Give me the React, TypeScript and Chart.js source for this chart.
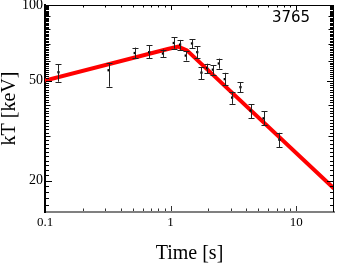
import React, { useEffect, useRef } from "react";
import { Chart, registerables } from "chart.js";

Chart.register(...registerables);

// Measured data (time in s, kT in keV) with asymmetric error bounds
const timeS = [0.128, 0.321, 0.518, 0.675, 0.869, 1.06, 1.19, 1.32, 1.48, 1.63, 1.76, 1.95, 2.17, 2.42, 2.7, 3.09, 3.6, 4.34, 5.5, 7.35];
const kT = [54.0, 55.0, 64.4, 64.9, 64.1, 70.6, 69.6, 62.9, 70.3, 64.9, 53.8, 56.1, 55.3, 58.5, 50.7, 42.8, 47.1, 38.0, 35.4, 29.1];
const kTHigh = [58.2, 58.6, 67.7, 69.0, 66.5, 74.3, 72.6, 65.6, 73.1, 68.4, 56.6, 58.4, 57.7, 61.2, 53.7, 45.2, 49.2, 40.2, 37.7, 31.0];
const kTLow = [49.5, 47.3, 61.4, 61.5, 61.9, 67.1, 66.3, 60.1, 67.3, 61.5, 50.6, 53.4, 52.8, 55.8, 47.9, 40.4, 44.9, 35.5, 33.3, 27.2];

// Broken power-law fit (red line)
const fitTime = [0.1, 0.95, 1.15, 1.35, 20];
const fitKT = [50, 66.8, 68.3, 66.0, 18.6];

// Axis ticks
const xTickLabels = [0.1, 1, 10];
const xMinorTicks = [0.2, 0.3, 0.4, 0.5, 0.6, 0.7, 0.8, 0.9, 2, 3, 4, 5, 6, 7, 8, 9];
const yTickLabels = [20, 50, 100];
const yMinorTicks = Array.from({ length: 86 }, (_, i) => 15 + i);

const burstLabel = "3765";
const xTitle = "Time [s]";
const yTitle = "kT [keV]";

const SERIF = "'Liberation Serif', 'Times New Roman', serif";

const errorBarPlugin = {
  id: "errorBars",
  afterDatasetsDraw(chart: any) {
    const { ctx, scales } = chart;
    const x = scales.x;
    const y = scales.y;
    ctx.save();
    ctx.strokeStyle = "#222";
    ctx.lineWidth = 1;
    ctx.beginPath();
    for (let i = 0; i < timeS.length; i++) {
      const px = Math.round(x.getPixelForValue(timeS[i])) + 0.5;
      const pTop = y.getPixelForValue(kTHigh[i]);
      const pBot = y.getPixelForValue(kTLow[i]);
      ctx.moveTo(px, pTop);
      ctx.lineTo(px, pBot);
      ctx.moveTo(px - 3, Math.round(pTop) + 0.5);
      ctx.lineTo(px + 3, Math.round(pTop) + 0.5);
      ctx.moveTo(px - 3, Math.round(pBot) + 0.5);
      ctx.lineTo(px + 3, Math.round(pBot) + 0.5);
    }
    ctx.stroke();
    ctx.restore();
  },
};

const frameTicksPlugin = {
  id: "frameTicks",
  afterDraw(chart: any) {
    const { ctx, chartArea, scales } = chart;
    const { left, right, top, bottom } = chartArea;
    const x = scales.x;
    const y = scales.y;
    ctx.save();
    ctx.strokeStyle = "#000";
    ctx.lineWidth = 1;
    ctx.beginPath();
    // top and right frame
    ctx.moveTo(left, top + 0.5);
    ctx.lineTo(right, top + 0.5);
    ctx.moveTo(right - 0.5, top);
    ctx.lineTo(right - 0.5, bottom);
    // y ticks (left and right, pointing inwards)
    for (const v of yMinorTicks) {
      const py = Math.round(y.getPixelForValue(v)) + 0.5;
      if (py < top || py > bottom) continue;
      const len = yTickLabels.includes(v) ? 6 : v % 10 === 0 ? 4.5 : 3;
      ctx.moveTo(left + 1, py);
      ctx.lineTo(left + 1 + len, py);
      ctx.moveTo(right - 1, py);
      ctx.lineTo(right - 1 - len, py);
    }
    // top ticks
    for (const v of [...xMinorTicks, ...xTickLabels]) {
      const px = Math.round(x.getPixelForValue(v)) + 0.5;
      if (px <= left + 1 || px >= right - 1) continue;
      const len = xTickLabels.includes(v) ? 5 : 2.5;
      ctx.moveTo(px, top);
      ctx.lineTo(px, top + len);
    }
    ctx.stroke();
    // bottom ticks
    ctx.strokeStyle = "#333";
    ctx.beginPath();
    for (const v of [...xMinorTicks, ...xTickLabels]) {
      const px = Math.round(x.getPixelForValue(v)) + 0.5;
      if (px <= left + 1 || px >= right - 1) continue;
      const len = xTickLabels.includes(v) ? 5 : 2.5;
      ctx.moveTo(px, bottom - 1);
      ctx.lineTo(px, bottom - 1 - len);
    }
    ctx.stroke();
    // burst label
    ctx.fillStyle = "#000";
    ctx.font = "15px 'DejaVu Sans', sans-serif";
    ctx.textAlign = "center";
    ctx.textBaseline = "middle";
    ctx.fillText(burstLabel, right - 43, top + 13);
    ctx.restore();
  },
};

export default function App() {
  const ref = useRef<HTMLCanvasElement>(null);

  useEffect(() => {
    if (!ref.current) return;
    const chart = new Chart(ref.current, {
      type: "scatter",
      data: {
        datasets: [
          {
            type: "scatter",
            data: timeS.map((t, i) => ({ x: t, y: kT[i] })),
            pointStyle: "rect",
            pointRadius: 1.6,
            backgroundColor: "#000",
            borderColor: "#000",
            borderWidth: 0,
            order: 0,
          },
          {
            type: "line",
            data: fitTime.map((t, i) => ({ x: t, y: fitKT[i] })),
            borderColor: "#ff0000",
            borderWidth: 4,
            pointRadius: 0,
            fill: false,
            tension: 0,
            order: 1,
          } as any,
        ],
      },
      options: {
        animation: false,
        responsive: false,
        devicePixelRatio: 1,
        layout: { padding: { left: 0, right: 2, top: 5, bottom: 0 } },
        plugins: { legend: { display: false }, tooltip: { enabled: false } },
        scales: {
          x: {
            type: "logarithmic",
            position: "bottom",
            min: 0.1,
            max: 20,
            afterBuildTicks: (s: any) => {
              s.ticks = xTickLabels.map((v) => ({ value: v }));
            },
            ticks: {
              callback: (v: any) => String(v),
              autoSkip: false,
              maxRotation: 0,
              font: { family: SERIF, size: 13 },
              color: "#000",
              padding: 3,
            },
            grid: { display: false, drawTicks: false },
            border: { display: true, color: "#808080", width: 2 },
            title: {
              display: true,
              text: xTitle,
              font: { family: SERIF, size: 20, lineHeight: 1 },
              color: "#000",
              padding: { top: 0, bottom: 0 },
            },
            afterFit: (s: any) => {
              s.height = 52;
              s.paddingLeft = 0;
              s.paddingRight = 0;
            },
          },
          y: {
            type: "logarithmic",
            position: "left",
            min: 15,
            max: 100,
            afterBuildTicks: (s: any) => {
              s.ticks = yTickLabels.map((v) => ({ value: v }));
            },
            ticks: {
              callback: (v: any) => String(v),
              autoSkip: false,
              font: { family: SERIF, size: 14 },
              color: "#000",
              padding: 2,
            },
            grid: { display: false, drawTicks: false },
            border: { display: true, color: "#000", width: 2 },
            title: {
              display: true,
              text: yTitle,
              font: { family: SERIF, size: 20, lineHeight: 1 },
              color: "#000",
              padding: 0,
            },
            afterFit: (s: any) => {
              s.width = 45;
              s.paddingTop = 0;
              s.paddingBottom = 0;
            },
          },
        },
      },
      plugins: [errorBarPlugin, frameTicksPlugin],
    } as any);
    return () => chart.destroy();
  }, []);

  return (
    <div style={{ position: "fixed", left: 0, top: 0, width: 338, height: 264, background: "#fff" }}>
      <canvas ref={ref} width={338} height={264} style={{ display: "block", width: 338, height: 264 }} />
    </div>
  );
}
